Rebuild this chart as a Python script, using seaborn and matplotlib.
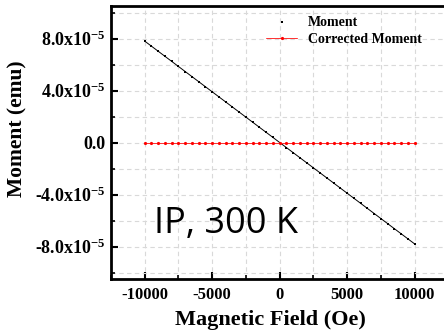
import matplotlib
matplotlib.use("Agg")
import matplotlib.pyplot as plt
from matplotlib.ticker import MultipleLocator, FixedLocator
import numpy as np
import pandas as pd
import seaborn as sns

# Field sweep (Oe) and measured moments (emu)
field = [-10000, -9500, -9000, -8500, -8000, -7500, -7000, -6500, -6000, -5500,
         -5000, -4500, -4000, -3500, -3000, -2500, -2000, -1500, -1000, -500,
         0, 500, 1000, 1500, 2000, 2500, 3000, 3500, 4000, 4500,
         5000, 5500, 6000, 6500, 7000, 7500, 8000, 8500, 9000, 9500, 10000]
moment_e5 = [7.80, 7.41, 7.02, 6.63, 6.24, 5.85, 5.46, 5.07, 4.68, 4.29,
             3.90, 3.51, 3.12, 2.73, 2.34, 1.95, 1.56, 1.17, 0.78, 0.39,
             0.00, -0.39, -0.78, -1.17, -1.56, -1.95, -2.34, -2.73, -3.12, -3.51,
             -3.90, -4.29, -4.68, -5.07, -5.46, -5.85, -6.24, -6.63, -7.02, -7.41, -7.80]
corrected_e5 = [0.0] * 41

xticks = [-10000, -5000, 0, 5000, 10000]
yticks = [8e-5, 4e-5, 0.0, -4e-5, -8e-5]
ytick_labels = ["8.0x10$^{-5}$", "4.0x10$^{-5}$", "0.0",
                "-4.0x10$^{-5}$", "-8.0x10$^{-5}$"]

df = pd.DataFrame({
    "field": field,
    "moment": np.array(moment_e5) * 1e-5,
    "corrected": np.array(corrected_e5) * 1e-5,
})

sns.set_style("white")
plt.rcParams["font.family"] = ["Liberation Serif", "DejaVu Serif"]
plt.rcParams["font.weight"] = "bold"
plt.rcParams["mathtext.fontset"] = "custom"
plt.rcParams["mathtext.rm"] = "Liberation Serif:bold"
plt.rcParams["mathtext.bf"] = "Liberation Serif:bold"
plt.rcParams["mathtext.it"] = "Liberation Serif:bold"
plt.rcParams["mathtext.default"] = "bf"
plt.rcParams["text.color"] = "black"
plt.rcParams["axes.labelcolor"] = "black"
plt.rcParams["xtick.color"] = "black"
plt.rcParams["ytick.color"] = "black"

fig = plt.figure(figsize=(4.44, 3.35), dpi=100)
ax = fig.add_axes([0.25, 0.167, 0.80, 0.815])

sns.lineplot(data=df, x="field", y="moment", color="black", lw=0.7,
             legend=False, ax=ax)
sns.scatterplot(data=df, x="field", y="moment", color="black", marker="s",
                s=4.5, linewidth=0, label="Moment", ax=ax)
sns.lineplot(data=df, x="field", y="corrected", color="#ff3030", lw=0.7,
             marker="o", markersize=2.3, markeredgewidth=0,
             markerfacecolor="red", label="Corrected Moment", ax=ax)

ax.set_xlim(-12500, 12500 + 25000 * 0.04 / 0.76)
ax.set_ylim(-1.05e-4, 1.05e-4)

ax.xaxis.set_major_locator(FixedLocator(xticks))
ax.xaxis.set_minor_locator(MultipleLocator(2500))
ax.yaxis.set_major_locator(FixedLocator(yticks))
ax.yaxis.set_minor_locator(MultipleLocator(2e-5))
ax.set_xticklabels([str(v) for v in xticks], fontsize=12, fontweight="bold")
ax.set_yticklabels(ytick_labels, fontsize=13, fontweight="bold")

ax.tick_params(axis="both", which="major", direction="in", length=5, width=1.5,
               left=True, bottom=True, pad=6)
ax.tick_params(axis="y", which="major", pad=4)
ax.tick_params(axis="both", which="minor", direction="in", length=3, width=1.2,
               left=True, bottom=True)

ax.grid(True, which="both", color="#d9d9d9", linestyle=(0, (4, 3)), linewidth=0.8)
ax.set_axisbelow(True)

for side in ["left", "bottom", "top", "right"]:
    ax.spines[side].set_linewidth(2.0)
    ax.spines[side].set_color("black")

ax.set_xlabel("Magnetic Field (Oe)", fontsize=16, fontweight="bold")
ax.xaxis.set_label_coords(0.448, -0.115)
ax.set_ylabel("Moment (emu)", fontsize=15.5, fontweight="bold")
ax.yaxis.set_label_coords(-0.235, 0.55)

ax.legend(loc="upper left", bbox_to_anchor=(0.41, 1.0), frameon=False,
          prop={"family": "Liberation Serif", "weight": "bold", "size": 10},
          handlelength=2.2, labelspacing=0.3, borderaxespad=0.3)

ax.text(0.12, 0.2, "IP, 300 K", transform=ax.transAxes, fontsize=26,
        family=["Open Sans", "DejaVu Sans"], fontweight="normal", color="black",
        ha="left", va="center")

fig.savefig("out.png", dpi=100)
